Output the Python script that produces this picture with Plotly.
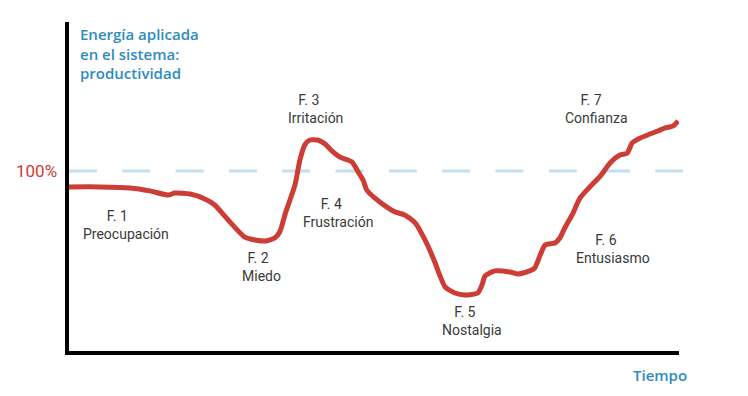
import plotly.graph_objects as go

# Curve: time (0-100) vs energy (% of nominal, 100 = dashed reference)
time = [0, 5.4, 10.3, 13.5, 16.5, 17.6, 20.1, 22.5, 24.1, 26.3, 29.0, 30.7, 32.3, 33.9,
        34.7, 35.7, 37.2, 38.0, 38.8, 39.6, 40.9, 42.1, 43.4, 44.5, 45.8, 46.5, 47.5,
        48.3, 48.9, 50.2, 51.9, 53.5, 55.1, 56.8, 58.4, 60.0, 60.8, 61.7, 63.3, 64.9,
        67.0, 67.7, 68.2, 69.8, 72.3, 73.6, 75.5, 76.3, 77.2, 78.0, 79.6, 80.4, 81.2,
        82.4, 83.7, 85.3, 87.0, 88.6, 90.2, 91.4, 92.2, 93.5, 95.1, 96.4, 97.6, 98.9, 99.7]
energy = [91.2, 91.2, 90.6, 89.0, 86.7, 87.8, 87.3, 84.5, 81.2, 72.9, 63.5, 61.9, 61.3, 63.0,
          66.3, 77.4, 92.3, 106.1, 114.4, 117.1, 117.1, 114.9, 110.5, 107.7, 106.1, 105.0, 99.5,
          95.0, 89.5, 85.1, 80.7, 77.4, 75.7, 71.3, 61.9, 49.7, 42.5, 35.9, 32.6, 31.5,
          32.6, 37.0, 42.0, 44.8, 44.2, 43.1, 44.8, 46.4, 53.6, 59.1, 60.2, 63.0, 68.5,
          75.7, 85.1, 91.2, 97.2, 104.4, 108.8, 109.9, 115.5, 118.2, 120.4, 122.1, 123.8, 124.9, 127.6]

reference_level = 100

phase_codes = ["F. 1", "F. 2", "F. 3", "F. 4", "F. 5", "F. 6", "F. 7"]
phase_names = ["Preocupación", "Miedo", "Irritación", "Frustración", "Nostalgia", "Entusiasmo", "Confianza"]
label_x = [9.6, 31.8, 40.5, 44.2, 66.1, 89.1, 86.3]
label_y = [70.2, 47.0, 134.0, 76.8, 16.9, 56.9, 134.0]

# styling: small shift of the "F. n" line to the left of the phase name
code_pad = [5, 2, 4, 4, 4, 4, 3]

RED = "#cc3d36"
BLUE = "#2e8bc0"
TXT = "#3a3a3a"

fig = go.Figure()
fig.add_trace(go.Scatter(x=time, y=energy, mode="lines",
                         line=dict(color=RED, width=5, shape="spline", smoothing=0.6),
                         hoverinfo="skip", showlegend=False))

fig.add_shape(type="line", xref="paper", yref="y", x0=0, x1=1.007,
              y0=reference_level, y1=reference_level,
              line=dict(color="#c6dff0", width=3, dash="28px,25.3px"), layer="below")

annotations = []
for c, n, lx, ly, pad in zip(phase_codes, phase_names, label_x, label_y, code_pad):
    annotations.append(dict(x=lx, y=ly, xref="x", yref="y",
                            text=c + "&nbsp;" * pad + "<br>" + n,
                            xanchor="center", yanchor="middle", align="center",
                            showarrow=False,
                            font=dict(family="Roboto", size=14, color=TXT)))

annotations.append(dict(x=-0.0164, y=reference_level, xref="paper", yref="y", text="100%",
                        xanchor="right", yanchor="middle", showarrow=False,
                        font=dict(family="Roboto", size=17, color=RED)))
annotations.append(dict(x=0.0148, y=1.0, xref="paper", yref="paper",
                        text="Energía aplicada<br>en el sistema:<br>productividad",
                        xanchor="left", yanchor="top", align="left", showarrow=False,
                        font=dict(family="Open Sans", size=15, color=BLUE, weight=600)))
annotations.append(dict(x=0.969, y=-0.073, xref="paper", yref="paper", text="Tiempo",
                        xanchor="center", yanchor="middle", showarrow=False,
                        font=dict(family="Open Sans", size=15, color=BLUE, weight=600)))

fig.update_layout(
    width=748, height=396,
    margin=dict(l=69, r=69, t=22, b=45),
    paper_bgcolor="white", plot_bgcolor="white",
    annotations=annotations,
    xaxis=dict(range=[0.33, 99.84], showline=True, linewidth=4, linecolor="black",
               showticklabels=False, ticks="", showgrid=False, zeroline=False),
    yaxis=dict(range=[0.55, 182.3], showline=True, linewidth=4, linecolor="black",
               showticklabels=False, ticks="", showgrid=False, zeroline=False),
)

fig.write_html("out.html")
